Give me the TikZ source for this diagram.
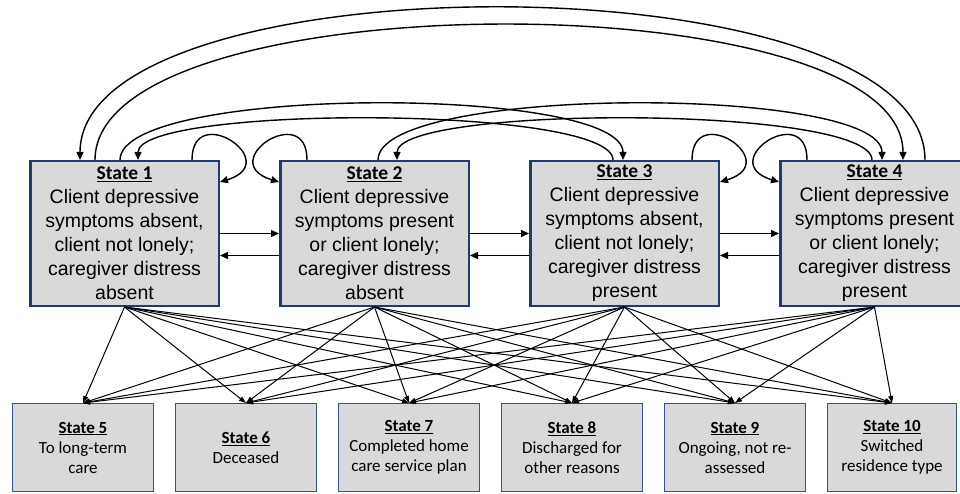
\documentclass[tikz,border=0pt]{standalone}
\usepackage{fontspec}
\setmainfont{Liberation Sans}
\newfontfamily\calibri{Carlito}
\usetikzlibrary{arrows.meta, positioning}
\definecolor{boxfill}{HTML}{D9D9D9}
\definecolor{topborder}{HTML}{1F3B73}
\definecolor{lowborder}{HTML}{2F5597}
\newcommand{\stitle}[1]{{\calibri\bfseries\underline{#1}}}

\begin{document}
\begin{tikzpicture}[
    x=1pt, y=1pt,
    upper/.style={rectangle, draw=topborder, line width=2.5pt, fill=boxfill,
                  minimum width=188.5pt, minimum height=144.5pt, inner sep=0pt, align=center,
                  font=\fontsize{19.5pt}{24pt}\selectfont},
    lower/.style={rectangle, draw=lowborder, line width=1.3pt, fill=boxfill,
                  minimum width=140.7pt, minimum height=87.7pt, inner sep=0pt, align=center,
                  font=\calibri\fontsize{17pt}{20pt}\selectfont},
    transit/.style={line width=1.4pt, -{Triangle[length=8pt,width=7pt]}},
    outflow/.style={line width=1pt, -{Triangle[length=7pt,width=5pt]}}
]
\useasboundingbox (0,0) rectangle (960,493);

\node[upper] (s1) at (124.5,259.5) {\stitle{State 1}\\Client depressive\\symptoms absent,\\client not lonely;\\caregiver distress\\absent};
\node[upper, right=59pt of s1] (s2) {\stitle{State 2}\\Client depressive\\symptoms present\\or client lonely;\\caregiver distress\\absent};
\node[upper, right=59pt of s2] (s3) {\stitle{State 3}\\Client depressive\\symptoms absent,\\client not lonely;\\caregiver distress\\present};
\node[upper, right=59pt of s3] (s4) {\stitle{State 4}\\Client depressive\\symptoms present\\or client lonely;\\caregiver distress\\present};

\node[lower] (s5) at (83,45.5) {\stitle{State 5}\\To long-term\\care};
\node[lower, right=21pt of s5] (s6) {\stitle{State 6}\\Deceased};
\node[lower, right=21pt of s6] (s7) {\stitle{State 7}\\Completed home\\care service plan};
\node[lower, right=21pt of s7] (s8) {\stitle{State 8}\\Discharged for\\other reasons};
\node[lower, right=21pt of s8] (s9) {\stitle{State 9}\\Ongoing, not re-\\assessed};
\node[lower, right=21pt of s9, minimum width=128.7pt] (s10) {\stitle{State 10}\\Switched\\residence type};

% staying in the same state
\draw[transit] ([xshift=-28pt]s1.north east) .. controls +(0,60) and +(65,20) .. ([yshift=-22pt]s1.north east);
\draw[transit] ([xshift=28pt]s2.north west) .. controls +(0,60) and +(-65,20) .. ([yshift=-22pt]s2.north west);
\draw[transit] ([xshift=-28pt]s3.north east) .. controls +(0,60) and +(65,20) .. ([yshift=-22pt]s3.north east);
\draw[transit] ([xshift=28pt]s4.north west) .. controls +(0,60) and +(-65,20) .. ([yshift=-22pt]s4.north west);

% neighbouring states
\draw[transit] (s1.east) -- (s2.west);
\draw[transit] ([yshift=-22pt]s2.west) -- ([yshift=-22pt]s1.east);
\draw[transit] (s2.east) -- (s3.west);
\draw[transit] ([yshift=-22pt]s3.west) -- ([yshift=-22pt]s2.east);
\draw[transit] (s3.east) -- (s4.west);
\draw[transit] ([yshift=-22pt]s4.west) -- ([yshift=-22pt]s3.east);

% arcs over the top
\draw[transit] ([xshift=146pt]s4.north west) .. controls +(0,203) and +(0,203) .. ([xshift=51pt]s1.north west);
\draw[transit] ([xshift=66pt]s1.north west) .. controls +(0,180) and +(0,180) .. ([xshift=124pt]s4.north west);
\draw[transit] ([xshift=91pt]s1.north west) .. controls +(0,75) and +(0,75) .. ([xshift=94pt]s3.north west);
\draw[transit] ([xshift=84pt]s3.north west) .. controls +(0,55) and +(0,55) .. ([xshift=109pt]s1.north west);
\draw[transit] ([xshift=99pt]s2.north west) .. controls +(0,75) and +(0,75) .. ([xshift=103pt]s4.north west);
\draw[transit] ([xshift=93pt]s4.north west) .. controls +(0,55) and +(0,55) .. ([xshift=118pt]s2.north west);

% exits
\draw[outflow] (s1.south) -- (s5.north);
\draw[outflow] (s1.south) -- (s6.north);
\draw[outflow] (s1.south) -- (s7.north);
\draw[outflow] (s1.south) -- (s8.north);
\draw[outflow] (s1.south) -- (s9.north);
\draw[outflow] (s1.south) -- (s10.north);
\draw[outflow] (s2.south) -- (s5.north);
\draw[outflow] (s2.south) -- (s6.north);
\draw[outflow] (s2.south) -- (s7.north);
\draw[outflow] (s2.south) -- (s8.north);
\draw[outflow] (s2.south) -- (s9.north);
\draw[outflow] (s2.south) -- (s10.north);
\draw[outflow] (s3.south) -- (s5.north);
\draw[outflow] (s3.south) -- (s6.north);
\draw[outflow] (s3.south) -- (s7.north);
\draw[outflow] (s3.south) -- (s8.north);
\draw[outflow] (s3.south) -- (s9.north);
\draw[outflow] (s3.south) -- (s10.north);
\draw[outflow] (s4.south) -- (s5.north);
\draw[outflow] (s4.south) -- (s6.north);
\draw[outflow] (s4.south) -- (s7.north);
\draw[outflow] (s4.south) -- (s8.north);
\draw[outflow] (s4.south) -- (s9.north);
\draw[outflow] (s4.south) -- (s10.north);
\end{tikzpicture}
\end{document}
